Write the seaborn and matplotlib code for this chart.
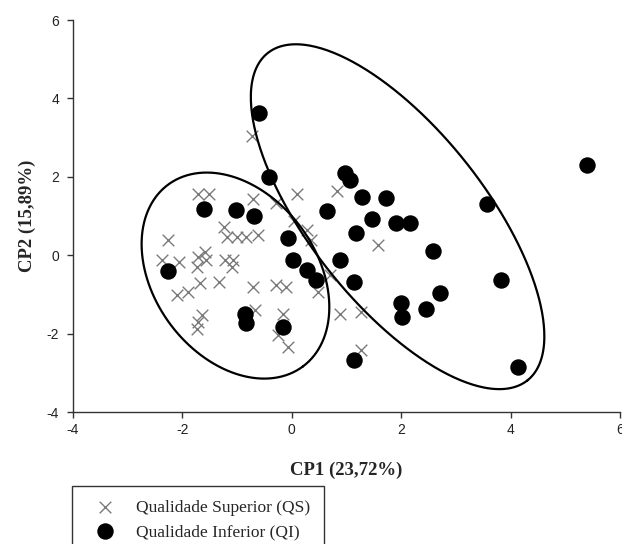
import numpy as np
import pandas as pd
import matplotlib
matplotlib.use("Agg")
import matplotlib.pyplot as plt
import seaborn as sns

# ---- data ----
qs_x = [-0.735, -1.71, -1.51, -0.71, -0.28, 0.09, 0.82, -1.24, -1.19, -1.01,
        -0.83, -0.61, -2.27, 0.04, 0.27, 0.36, 1.57, -2.38, -2.07, -1.71,
        -1.59, -1.56, -1.74, -1.22, -1.07, -1.10, -2.10, -1.89, -1.68, -1.34,
        -1.65, -1.71, -1.74, -0.71, -0.28, -0.10, -0.68, -0.16, -0.25, -0.07,
        0.48, 0.69, 0.88, 1.27, 1.27]
qs_y = [3.04, 1.57, 1.56, 1.43, 1.34, 1.56, 1.63, 0.72, 0.46, 0.46,
        0.47, 0.51, 0.40, 0.87, 0.64, 0.38, 0.26, -0.13, -0.17, -0.04,
        0.08, -0.13, -0.30, -0.13, -0.13, -0.30, -1.02, -0.94, -0.72, -0.68,
        -1.53, -1.70, -1.87, -0.81, -0.77, -0.81, -1.40, -1.49, -2.04, -2.34,
        -0.94, -0.51, -1.51, -1.45, -2.42]

qi_x = [-0.60, -0.41, -1.61, -1.02, -0.69, -2.26, -0.07, 0.02, 0.27, 0.45,
        -0.86, -0.84, -0.16, 0.97, 1.07, 1.29, 1.73, 0.65, 1.47, 1.90,
        2.17, 1.17, 2.59, 0.89, 1.13, 2.71, 2.00, 2.45, 2.02, 1.13,
        3.83, 4.14, 3.56, 5.39]
qi_y = [3.63, 2.00, 1.17, 1.16, 0.99, -0.40, 0.45, -0.13, -0.38, -0.64,
        -1.49, -1.73, -1.83, 2.10, 1.91, 1.49, 1.46, 1.13, 0.92, 0.83,
        0.83, 0.57, 0.11, -0.13, -0.68, -0.96, -1.23, -1.38, -1.57, -2.68,
        -0.62, -2.85, 1.30, 2.30]

label_qs = "Qualidade Superior (QS)"
label_qi = "Qualidade Inferior (QI)"
x_label = "CP1 (23,72%)"
y_label = "CP2 (15,89%)"
x_ticks = [-4, -2, 0, 2, 4, 6]
y_ticks = [-4, -2, 0, 2, 4, 6]

# ellipses: center and 2x2 shape matrix in data units
ell_left_center = (-1.03, -0.52)
ell_left_shape = [[1.235, 1.191], [-2.316, 1.242]]
ell_right_center = (1.934, 0.982)
ell_right_shape = [[2.375, 1.248], [-4.174, 1.388]]

df_qs = pd.DataFrame({"x": qs_x, "y": qs_y})
df_qi = pd.DataFrame({"x": qi_x, "y": qi_y})

sns.set_theme(style="white")
plt.rcParams["font.family"] = ["Liberation Sans", "DejaVu Sans"]
plt.rcParams["axes.unicode_minus"] = False

fig = plt.figure(figsize=(6.22, 5.44), dpi=100)
ax = fig.add_axes([73/622, 1-412/544, (620-73)/622, (412-20)/544])

sns.scatterplot(data=df_qs, x="x", y="y", marker="x", s=70, color="#7a7a7a",
                linewidth=1.0, ax=ax, label=label_qs, zorder=2)
sns.scatterplot(data=df_qi, x="x", y="y", marker="o", s=140, color="black",
                edgecolor="black", linewidth=0, ax=ax, label=label_qi, zorder=3)

t = np.linspace(0, 2*np.pi, 400)
for c, m in [(ell_left_center, ell_left_shape), (ell_right_center, ell_right_shape)]:
    ex = c[0] + m[0][0]*np.cos(t) + m[0][1]*np.sin(t)
    ey = c[1] + m[1][0]*np.cos(t) + m[1][1]*np.sin(t)
    ax.plot(ex, ey, color="black", linewidth=1.6, zorder=4)

ax.set_xlim(-4, 6)
ax.set_ylim(-4, 6)
ax.set_xticks(x_ticks)
ax.set_yticks(y_ticks)
for s in ["top", "right"]:
    ax.spines[s].set_visible(False)
for s in ["left", "bottom"]:
    ax.spines[s].set_color("#333333")
    ax.spines[s].set_linewidth(1.0)
ax.tick_params(axis="both", direction="out", length=4, width=1, color="#333333",
               labelsize=10, labelcolor="#222222", left=True, bottom=True)
ax.tick_params(axis="y", pad=6)
ax.tick_params(axis="x", pad=4)

ax.set_xlabel(x_label, fontfamily="Liberation Serif", fontweight="bold",
              fontsize=13.5, labelpad=18)
ax.set_ylabel(y_label, fontfamily="Liberation Serif", fontweight="bold",
              fontsize=13.5, labelpad=8)

handles, labels = ax.get_legend_handles_labels()
ax.get_legend().remove()
leg = fig.legend(handles, labels, loc="upper left",
                 bbox_to_anchor=(72/622, 1-486/544),
                 frameon=True, fancybox=False, edgecolor="black",
                 prop={"family": "Liberation Serif", "size": 12.5},
                 handletextpad=0.7, borderpad=0.8, labelspacing=0.45,
                 handlelength=2.2, markerscale=1.0, borderaxespad=0)
leg.get_frame().set_linewidth(1.0)

fig.savefig("out.png", dpi=100)
